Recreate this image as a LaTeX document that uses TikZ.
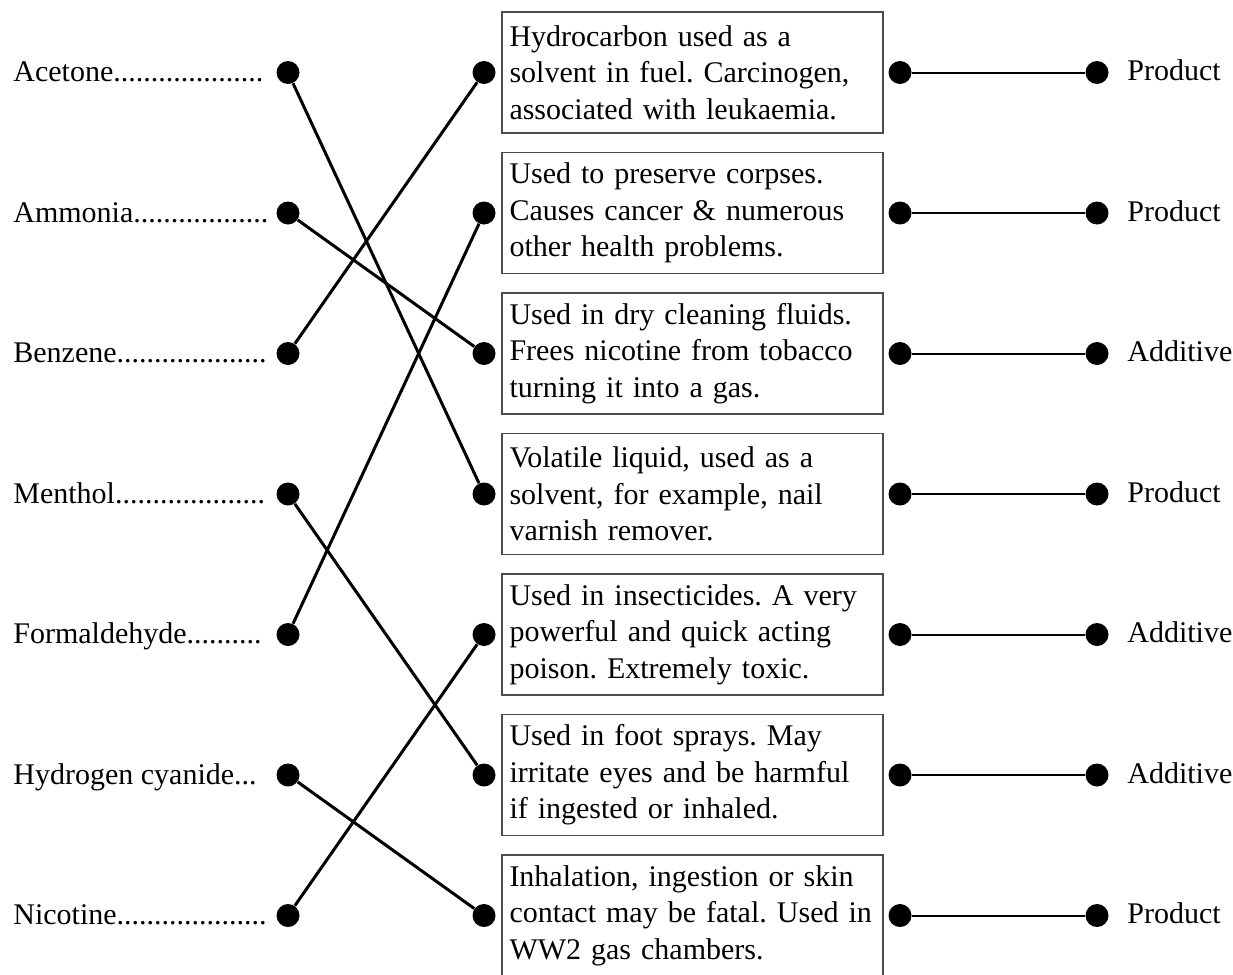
\documentclass[tikz,border=0pt]{standalone}
\usepackage{fontspec}
\setmainfont{Liberation Serif}
\usetikzlibrary{positioning}

\begin{document}
\begin{tikzpicture}[x=0.5pt, y=-0.5pt, font=\fontsize{15pt}{18.25pt}\selectfont\frenchspacing,
		dot/.style={circle, fill=black, inner sep=0pt, minimum size=11.5pt},
		card/.style={rectangle, draw=black!70, line width=0.6pt, minimum width=190.5pt, minimum height=60.5pt, text width=183pt, inner xsep=3.75pt, inner ysep=0pt, align=left},
		word/.style={inner sep=0pt, anchor=base west},
		link/.style={line width=1.5pt}]
			\useasboundingbox (0,0) rectangle (1233,975);
			% left column: the substances
			\foreach \i/\name in {1/{Acetone....................}, 2/{Ammonia..................}, 3/{Benzene....................}, 4/{Menthol....................}, 5/{Formaldehyde..........}, 6/{Hydrogen cyanide...}, 7/{Nicotine....................}}{
				\node[dot] (L-\i) at (288, {72.5+140.5*(\i-1)}) {};
				\node[word] (N-\i) at (13, {81.5+140.5*(\i-1)}) {\name};
			}
			% middle column: the descriptions
			\foreach \i/\txt in {
				1/{Hydrocarbon used as a\\solvent in fuel. Carcinogen,\\associated with leukaemia.},
				2/{Used to preserve corpses.\\Causes cancer \& numerous\\other health problems.},
				3/{Used in dry cleaning fluids.\\Frees nicotine from tobacco\\turning it into a gas.},
				4/{Volatile liquid, used as a\\solvent, for example, nail\\varnish remover.},
				5/{Used in insecticides. A very\\powerful and quick acting\\poison. Extremely toxic.},
				6/{Used in foot sprays. May\\irritate eyes and be harmful\\if ingested or inhaled.},
				7/{Inhalation, ingestion or skin\\contact may be fatal. Used in\\WW2 gas chambers.}}{
				\node[dot] (M-\i) at (484, {72.5+140.5*(\i-1)}) {};
				\node[card] (B-\i) at (692.5, {72.5+140.5*(\i-1)}) {\txt};
			}
			% right column: product or additive
			\foreach \i/\kind in {1/Product, 2/Product, 3/Additive, 4/Product, 5/Additive, 6/Additive, 7/Product}{
				\node[dot] (R-\i) at (900, {72.5+140.5*(\i-1)}) {};
				\node[dot] (P-\i) at (1097, {72.5+140.5*(\i-1)}) {};
				\node[word] (K-\i) at (1127, {80.5+140.5*(\i-1)}) {\kind};
				\draw[line width=1pt] (R-\i) -- (P-\i);
			}
			\foreach \a/\b in {1/4, 2/3, 3/1, 4/6, 5/2, 6/7, 7/5}
				\draw[link] (L-\a) -- (M-\b);
		\end{tikzpicture}
\end{document}
